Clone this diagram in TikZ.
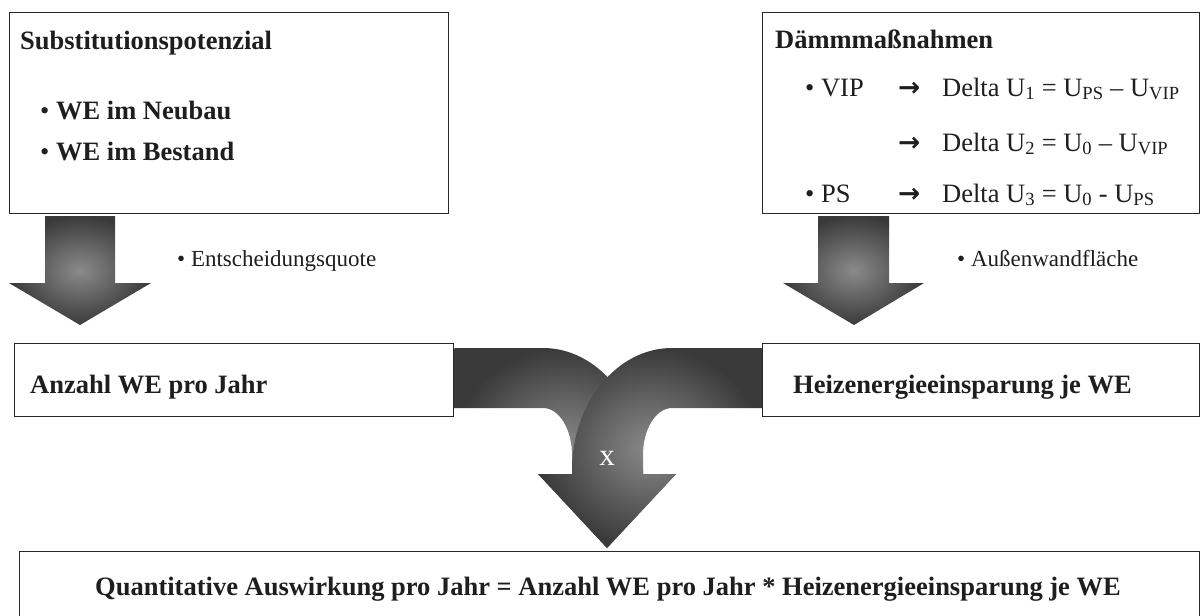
\documentclass[tikz,border=0pt]{standalone}
\usepackage{fontspec}
\setmainfont{Liberation Serif}
\newfontfamily\arrowfont{DejaVu Sans}
\definecolor{boxline}{RGB}{40,40,40}
\definecolor{inktext}{RGB}{30,30,30}
\definecolor{arrowlight}{RGB}{138,138,138}
\definecolor{arrowdark}{RGB}{58,58,58}
\begin{document}
\begin{tikzpicture}[x=1pt,y=-1pt,
  box/.style={draw=boxline, line width=1.4pt, fill=white, inner sep=0pt, anchor=north west},
  big/.style={font=\fontsize{26.5}{32}\selectfont, text=inktext},
  bigbold/.style={font=\fontsize{26.5}{32}\selectfont\bfseries, text=inktext},
  small/.style={font=\fontsize{23}{28}\selectfont, text=inktext},
  txt/.style={anchor=base west, inner sep=0pt},
  blockarrow/.style={inner color=arrowlight, outer color=arrowdark}]
\useasboundingbox (0,0) rectangle (1200,616);
\clip (0,0) rectangle (1200,616);

% boxes
\node[box, minimum width=439pt, minimum height=201pt] (subst) at (9,12) {};
\node[box, minimum width=437pt, minimum height=201pt] (daemm) at (762,12) {};
\node[box, minimum width=439pt, minimum height=73pt] (anzahl) at (14,343) {};
\node[box, minimum width=437pt, minimum height=73pt] (heiz) at (762,343) {};
\node[box, minimum width=1180pt, minimum height=100pt] (result) at (19,551) {};

% box texts
\node[txt, bigbold] (substT) at (20,49) {Substitutionspotenzial};
\node[txt, bigbold] (neubau) at (40,119) {{\mdseries •} WE im Neubau};
\node[txt, bigbold] (bestand) at (40,160) {{\mdseries •} WE im Bestand};

\node[txt, bigbold] (daemmT) at (775,48) {Dämmmaßnahmen};
\node[txt, big] (vip) at (805,96) {• VIP};
\node[txt, big] (du1) at (898,96) {\makebox[44pt][l]{\arrowfont\bfseries →}Delta U\textsubscript{1} = U\textsubscript{PS} – U\textsubscript{VIP}};
\node[txt, big] (du2) at (898,151) {\makebox[44pt][l]{\arrowfont\bfseries →}Delta U\textsubscript{2} = U\textsubscript{0} – U\textsubscript{VIP}};
\node[txt, big] (ps) at (805,202) {• PS};
\node[txt, big] (du3) at (898,202) {\makebox[44pt][l]{\arrowfont\bfseries →}Delta U\textsubscript{3} = U\textsubscript{0} - U\textsubscript{PS}};

\node[txt, bigbold] (anzahlT) at (30,393) {Anzahl WE pro Jahr};
\node[txt, bigbold] (heizT) at (793,393) {Heizenergieeinsparung je WE};
\node[anchor=base, inner sep=0pt, bigbold] (resultT) at (608,595)
  {Quantitative Auswirkung pro Jahr = Anzahl WE pro Jahr * Heizenergieeinsparung je WE};

% down arrows with side labels
\shade[blockarrow] (45,216) -- (115,216) -- (115,283) -- (151,283) -- (80,325)
  -- (9,283) -- (45,283) -- cycle;
\node[txt, small] (quote) at (177,266) {• Entscheidungsquote};

\shade[blockarrow] (818,216) -- (889,216) -- (889,283) -- (924,283) -- (854,325)
  -- (783,283) -- (818,283) -- cycle;
\node[txt, small] (wall) at (957,266) {• Außenwandfläche};

% merging arrow: left arm, then right arm on top
\shade[blockarrow] (anzahl.north east |- 0,348) -- (543,348)
  .. controls (598,348) and (643,403) .. (643,470) -- (643,474) -- (676,474)
  -- (607,548) -- (538,474) -- (572,474) -- (572,455)
  .. controls (572,429) and (559,408) .. (543,408) -- (anzahl.north east |- 0,408) -- cycle;
\shade[blockarrow] (heiz.north west |- 0,348) -- (672,348)
  .. controls (617,348) and (572,403) .. (572,470) -- (572,474) -- (538,474)
  -- (607,548) -- (676,474) -- (643,474) -- (643,455)
  .. controls (643,429) and (656,408) .. (672,408) -- (heiz.north west |- 0,408) -- cycle;
\node[font=\fontsize{31}{36}\selectfont, text=white, inner sep=0pt, anchor=base] (times) at (607,465) {x};
\end{tikzpicture}
\end{document}
